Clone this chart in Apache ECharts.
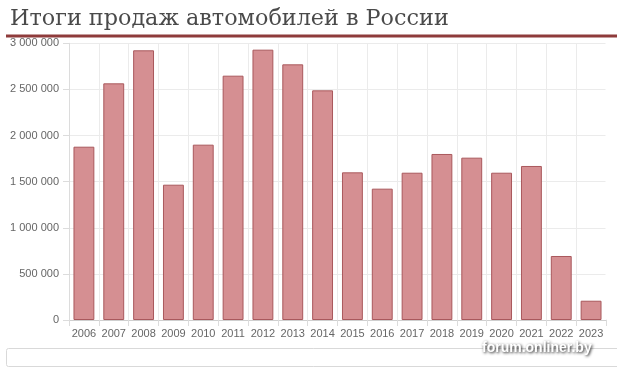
<!DOCTYPE html>
<html><head><meta charset="utf-8">
<script src="https://cdn.jsdelivr.net/npm/echarts@6/dist/echarts.min.js"></script>
<style>html,body{margin:0;padding:0;background:#fff}#c{width:617px;height:372px}</style>
</head><body><div id="c"></div>
<script>
const titleText = 'Итоги продаж автомобилей в России';
const watermark = 'forum.onliner.by';
const years = ['2006','2007','2008','2009','2010','2011','2012','2013','2014','2015','2016','2017','2018','2019','2020','2021','2022','2023'];
const sales = [1879000, 2566000, 2924000, 1467000, 1901000, 2649000, 2931000, 2772000, 2490000, 1601000, 1424000, 1597000, 1800000, 1760000, 1597000, 1670000, 694000, 209000];
const yMin = 0, yMax = 3000000, yInterval = 500000;

function fmt(v){ return String(v).replace(/\B(?=(\d{3})+(?!\d))/g, ' '); }

const chart = echarts.init(document.getElementById('c'), null, {renderer:'canvas'});
chart.setOption({
  animation: false,
  backgroundColor: '#fff',
  title: {
    text: titleText, left: 5, top: 3,
    textStyle: {fontFamily: 'DejaVu Serif', fontSize: 22.3, fontWeight: 'normal', color: '#4a4a4a'}
  },
  grid: {left: 69, right: 11, top: 43.3, bottom: 52, containLabel: false},
  xAxis: {
    type: 'category', data: years, boundaryGap: true,
    axisLine: {show: true, lineStyle: {color: '#cfcfcf', width: 1}},
    axisTick: {show: true, length: 6, interval: 0, lineStyle: {color: '#dcdcdc'}},
    splitLine: {show: true, interval: 0, lineStyle: {color: '#ebebeb', width: 1}},
    axisLabel: {interval: 0, color: '#666', fontFamily: 'Liberation Sans', fontSize: 11, margin: 8, hideOverlap: false}
  },
  yAxis: {
    type: 'value', min: yMin, max: yMax, interval: yInterval,
    axisLine: {show: true, lineStyle: {color: '#dcdcdc', width: 1}},
    axisTick: {show: true, length: 6, lineStyle: {color: '#dcdcdc'}},
    splitLine: {show: true, lineStyle: {color: '#ebebeb', width: 1}},
    axisLabel: {color: '#666', fontFamily: 'Liberation Sans', fontSize: 11, margin: 10, formatter: fmt}
  },
  series: [{
    type: 'bar', data: sales, barWidth: '70%',
    itemStyle: {color: '#d58f92', borderColor: '#a9585c', borderWidth: 1}
  }],
  graphic: [
    {type: 'rect', shape: {x: 605.5, y: 42, width: 3, height: 277.5}, style: {fill: '#fff'}, z: 50},
    {type: 'rect', shape: {x: 6, y: 34.5, width: 611, height: 3}, style: {fill: '#8e3b3b'}, z: 100},
    {type: 'rect', shape: {x: 6.5, y: 348.5, width: 620, height: 18, r: 2}, style: {fill: '#fff', stroke: '#d9d9d9', lineWidth: 1}, z: 90},
    {type: 'text', x: 482, y: 348.5, z: 110, style: {
      text: watermark, fill: '#fff', font: 'bold 14px "Liberation Sans"',
      verticalAlign: 'middle', align: 'left',
      textShadowColor: 'rgba(0,0,0,0.9)', textShadowBlur: 3, textShadowOffsetX: 1, textShadowOffsetY: 1,
      shadowColor: 'rgba(0,0,0,0.9)', shadowBlur: 3
    }}
  ]
});
</script></body></html>
